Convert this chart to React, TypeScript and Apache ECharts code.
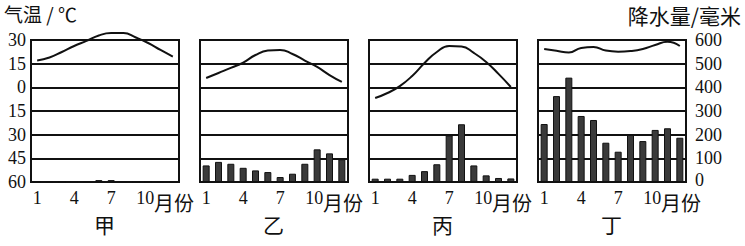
import React, { useEffect, useRef } from "react";
import * as echarts from "echarts";

const months = ["1", "2", "3", "4", "5", "6", "7", "8", "9", "10", "11", "12"];
const panelNames = ["甲", "乙", "丙", "丁"];

const tempJia = [17.0, 18.9, 22.4, 26.2, 29.4, 32.9, 34.4, 34.4, 31.6, 28.1, 23.7, 19.5];
const precipJia = [0, 0, 0, 0, 0, 8, 8, 0, 0, 0, 0, 0];

const tempYi = [5.9, 9.1, 12.3, 15.7, 20.5, 23.3, 23.7, 21.1, 17.0, 12.9, 7.8, 3.4];
const precipYi = [70, 85, 77, 60, 49, 42, 21, 35, 77, 138, 121, 96];

const tempBing = [-6.8, -3.6, 0.8, 7.2, 15.4, 22.4, 26.2, 25.9, 21.8, 16.1, 8.5, 0.2];
const precipBing = [14, 14, 14, 30, 46, 75, 197, 244, 70, 28, 17, 15];

const tempDing = [24.3, 23.2, 22.1, 25.0, 25.6, 23.3, 22.6, 23.0, 24.3, 26.8, 28.9, 26.2];
const precipDing = [245, 363, 441, 279, 262, 166, 128, 199, 173, 220, 227, 187];

const temps = [tempJia, tempYi, tempBing, tempDing];
const precips = [precipJia, precipYi, precipBing, precipDing];

const tempTicks = { min: -60, max: 30, interval: 15 };
const precipTicks = { min: 0, max: 600, interval: 100 };

export default function App() {
  const ref = useRef<HTMLDivElement>(null);
  useEffect(() => {
    if (!ref.current) return;
    const chart = echarts.init(ref.current, undefined, { renderer: "svg" });
    const lefts = [31, 200, 369, 538];
    const gw = 148;
    const top = 40;
    const gh = 142;
    const serif = "Liberation Serif";
    const cjk = "Noto Sans CJK SC";

    const grid: any[] = [];
    const xAxis: any[] = [];
    const yAxis: any[] = [];
    const series: any[] = [];
    const graphic: any[] = [];

    lefts.forEach((l, i) => {
      grid.push({
        left: l,
        top,
        width: gw,
        height: gh,
        show: true,
        borderColor: "#111",
        borderWidth: 2,
        backgroundColor: "transparent",
        containLabel: false,
        outerBoundsMode: "none",
      });
      xAxis.push({
        type: "category",
        gridIndex: i,
        data: months,
        axisTick: { show: false },
        axisLine: { show: false },
        splitLine: { show: false },
        axisLabel: {
          interval: (idx: number) => idx % 3 === 0,
          color: "#111",
          fontFamily: serif,
          fontSize: 18,
          margin: 7,
          formatter: (v: string) => (v === "10" ? "{t|10}" : v),
          rich: { t: { fontFamily: serif, fontSize: 18, color: "#111", padding: [0, 6, 0, 0] } },
        },
      });
      yAxis.push({
        type: "value",
        gridIndex: i,
        position: "left",
        ...tempTicks,
        axisLine: { show: false },
        axisTick: { show: false },
        splitLine: { show: true, lineStyle: { color: "#111", width: 2 } },
        axisLabel: {
          show: i === 0,
          color: "#111",
          fontFamily: serif,
          fontSize: 18,
          margin: 5,
          formatter: (v: number) => String(Math.abs(v)),
        },
      });
      yAxis.push({
        type: "value",
        gridIndex: i,
        position: "right",
        ...precipTicks,
        axisLine: { show: false },
        axisTick: { show: false },
        splitLine: { show: false },
        axisLabel: {
          show: i === 3,
          color: "#111",
          fontFamily: serif,
          fontSize: 18,
          margin: 9,
          formatter: (v: number) => (v === 0 ? "{z|0}" : String(v)),
          rich: { z: { fontFamily: serif, fontSize: 18, color: "#111", padding: [0, 0, 4, 0] } },
        },
      });
      series.push({
        type: "bar",
        xAxisIndex: i,
        yAxisIndex: 2 * i + 1,
        data: precips[i],
        barWidth: 7,
        itemStyle: { color: "#3a3a3a", borderColor: "#111", borderWidth: 1 },
      });
      series.push({
        type: "line",
        xAxisIndex: i,
        yAxisIndex: 2 * i,
        data: temps[i],
        smooth: true,
        showSymbol: false,
        symbol: "none",
        clip: false,
        lineStyle: { color: "#111", width: 2 },
        z: 5,
      });
      graphic.push({
        type: "text",
        left: l + gw - 25,
        top: 192,
        style: { text: "月份", font: `20px "${cjk}"`, fill: "#111" },
      });
      graphic.push({
        type: "text",
        left: l + gw / 2 - 11,
        top: 213,
        style: { text: panelNames[i], font: `21px "${cjk}"`, fill: "#111" },
      });
    });

    graphic.push({
      type: "text",
      left: 4,
      top: 4,
      style: { text: "气温 / ℃", font: `19px "${cjk}"`, fill: "#111" },
    });
    graphic.push({
      type: "text",
      right: 4,
      top: 4,
      style: { text: "降水量/毫米", font: `21px "${cjk}"`, fill: "#111" },
    });

    chart.setOption({
      animation: false,
      backgroundColor: "#fff",
      grid,
      xAxis,
      yAxis,
      series,
      graphic,
    });
    return () => chart.dispose();
  }, []);
  return (
    <div
      ref={ref}
      style={{ position: "absolute", left: 0, top: 0, width: 745, height: 246 }}
    />
  );
}
